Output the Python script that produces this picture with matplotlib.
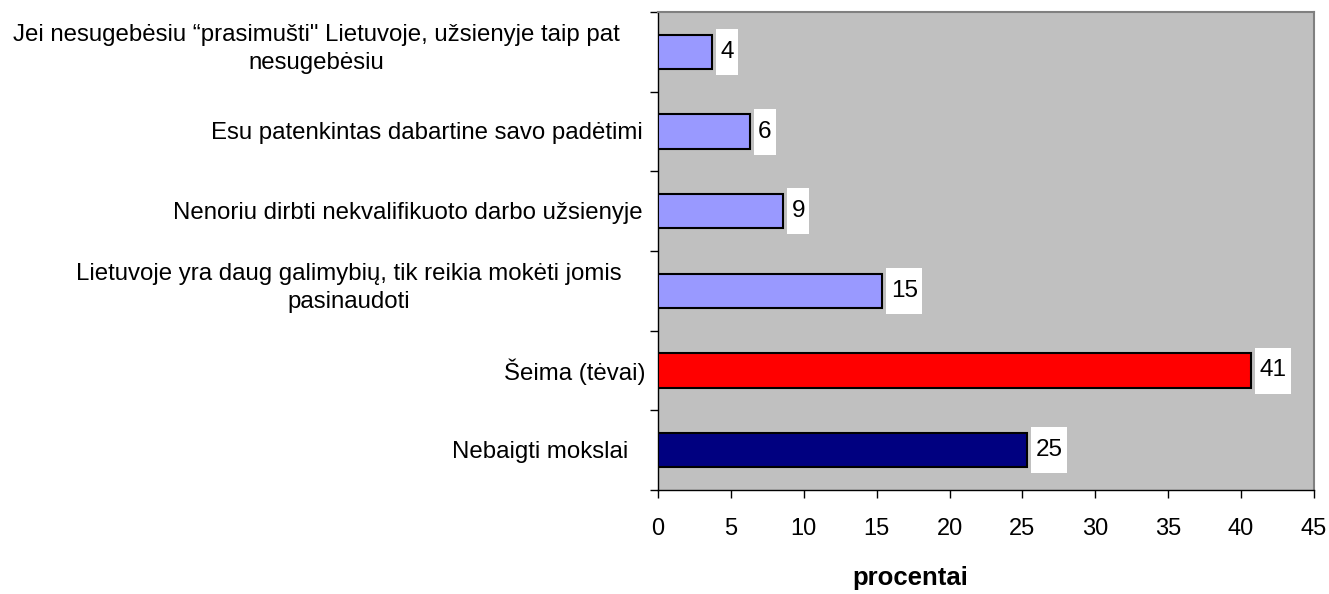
# Horizontal bar chart: reasons for staying in Lithuania (procentai)
import matplotlib.pyplot as plt
from matplotlib.patches import Rectangle
from matplotlib.transforms import blended_transform_factory
import numpy as np

plt.rcParams['font.family'] = ['Liberation Sans', 'DejaVu Sans']

# data, bottom bar first
categories = ["Nebaigti mokslai",
              "Šeima (tėvai)",
              "Lietuvoje yra daug galimybių, tik reikia mokėti jomis\npasinaudoti",
              "Nenoriu dirbti nekvalifikuoto darbo užsienyje",
              "Esu patenkintas dabartine savo padėtimi",
              "Jei nesugebėsiu “prasimušti\" Lietuvoje, užsienyje taip pat\nnesugebėsiu"]
values = [25.3, 40.7, 15.4, 8.6, 6.3, 3.7]
shown = [25, 41, 15, 9, 6, 4]
xticks = [0, 5, 10, 15, 20, 25, 30, 35, 40, 45]

colors = ['#000080', '#FF0000', '#9999FF', '#9999FF', '#9999FF', '#9999FF']
label_right_px = [628, 645, 622, 643, 643, 620]  # right edge of category text

W, H = 1329, 594
x0, x1, y0, y1 = 658, 1314, 12, 490
fig = plt.figure(figsize=(W / 100, H / 100), dpi=100)
ax = fig.add_axes([x0 / W, 1 - y1 / H, (x1 - x0) / W, (y1 - y0) / H])
ax.set_facecolor('#C0C0C0')

n = len(values)
pos = np.arange(n)
ax.barh(pos, values, height=0.43, color=colors, edgecolor='black', linewidth=1.5, zorder=3)

ax.set_xlim(0, 45)
ax.set_ylim(-0.5, n - 0.5)
px_x = (x1 - x0) / 45.0
px_y = (y1 - y0) / float(n)

# value labels on white boxes
for i in range(n):
    txt = str(shown[i])
    wpx = 22 if len(txt) == 1 else 36
    bx = values[i] + 4 / px_x
    bw = wpx / px_x
    bh = 46 / px_y
    ax.add_patch(Rectangle((bx, pos[i] - bh / 2), bw, bh, facecolor='white',
                           edgecolor='none', zorder=4))
    ax.text(bx + bw / 2, pos[i], txt, ha='center', va='center', fontsize=17.5, zorder=5)

# category labels
tr = blended_transform_factory(ax.transAxes, ax.transData)
for i in range(n):
    dy = 0.035 if '\n' in categories[i] else -0.02
    ax.text((label_right_px[i] - x0) / (x1 - x0), pos[i] + dy, categories[i], transform=tr,
            ha='right', va='center', multialignment='center', fontsize=17.3, linespacing=1.3)

ax.set_yticks(np.arange(-0.5, n, 1))
ax.set_yticklabels([])
ax.set_xticks(xticks)
ax.set_xticklabels([str(t) for t in xticks])
ax.tick_params(axis='x', direction='out', length=6, width=1, labelsize=17, pad=14)
ax.tick_params(axis='y', direction='out', length=6, width=1)

for s in ['top', 'right']:
    ax.spines[s].set_color('#808080')
    ax.spines[s].set_linewidth(1.5)
for s in ['left', 'bottom']:
    ax.spines[s].set_color('black')
    ax.spines[s].set_linewidth(1)

fig.text(910 / W, 1 - 578 / H, 'procentai', ha='center', va='center',
         fontsize=18.5, fontweight='bold')

fig.savefig('out.png', dpi=100)
